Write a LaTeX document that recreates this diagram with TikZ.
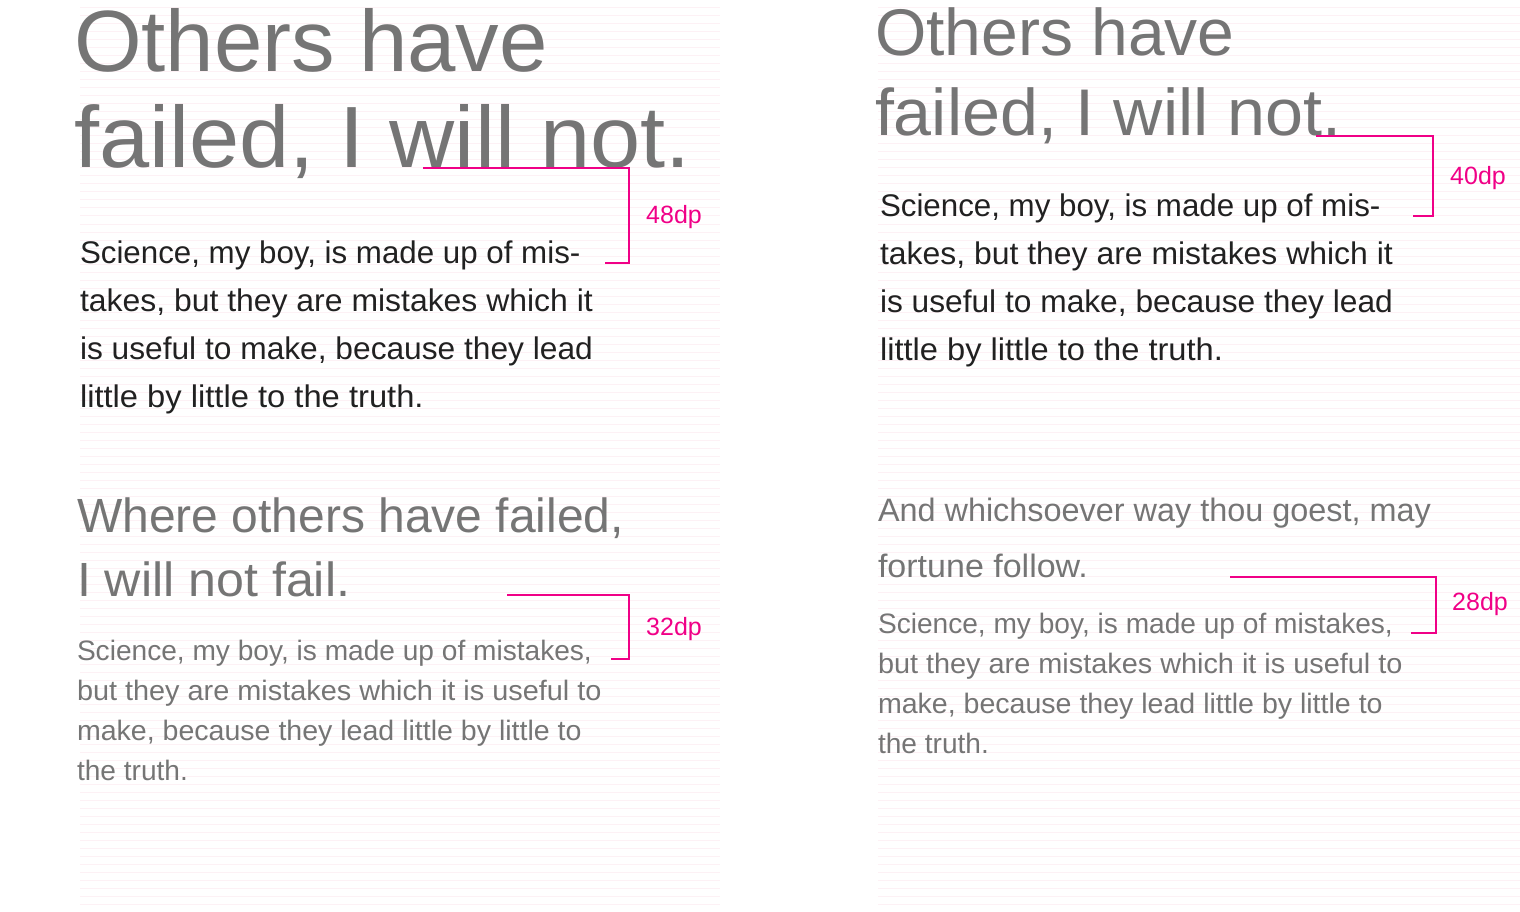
\documentclass[tikz,border=0pt]{standalone}
\usepackage{fontspec}
\usepackage{graphicx}
\setmainfont{Liberation Sans}
\definecolor{headgray}{RGB}{117,117,117}
\definecolor{bodyblack}{RGB}{33,33,33}
\definecolor{dppink}{RGB}{240,0,135}
\definecolor{gridpink}{RGB}{253,241,245}
\newcommand\sxt[2]{\scalebox{#1}[1]{#2}}
\tikzset{
  txt/.style={anchor=base west, inner sep=0pt, outer sep=0pt},
  hdA/.style={txt, text=headgray, font=\fontsize{87}{87}\selectfont},
  hdB/.style={txt, text=headgray, font=\fontsize{66}{66}\selectfont},
  hdC/.style={txt, text=headgray, font=\fontsize{48}{48}\selectfont},
  hdD/.style={txt, text=headgray, font=\fontsize{32.4}{32.4}\selectfont},
  bodyA/.style={txt, text=bodyblack, font=\fontsize{31.3}{31.3}\selectfont},
  bodyB/.style={txt, text=headgray, font=\fontsize{28.1}{28.1}\selectfont},
  dplabel/.style={inner sep=0pt, text=dppink, font=\fontsize{25}{25}\selectfont},
  bracket/.style={draw=dppink, line width=1.6pt},
  gridline/.style={draw=gridpink, line width=1pt}
}
\begin{document}
\begin{tikzpicture}[x=1pt, y=-1pt]
\useasboundingbox (0,0) rectangle (1520,912);
% baseline grids
\foreach \yy in {8,16,...,912} {
  \draw[gridline] (80,\yy) -- (720,\yy);
  \draw[gridline] (878,\yy) -- (1520,\yy);
}
% ---- top left ----
\node[hdA] (tl1) at (74,72) {Others have};
\node[hdA] (tl2) at (74,168) {\sxt{1.037}{failed, I will not.}};
\node[bodyA] (tlb1) at (80,263) {Science, my boy, is made up of mis-};
\node[bodyA] (tlb2) at (80,311) {\sxt{1.02}{takes, but they are mistakes which it}};
\node[bodyA] (tlb3) at (80,359) {\sxt{1.013}{is useful to make, because they lead}};
\node[bodyA] (tlb4) at (80,407) {\sxt{1.045}{little by little to the truth.}};
\coordinate (tlA) at (423,168);
\coordinate (tlB) at (629,168);
\coordinate (tlC) at (629,263);
\coordinate (tlD) at (605,263);
\draw[bracket] (tlA) -- (tlB) -- (tlC) -- (tlD);
\node[dplabel] (tll) at (674,217) {48dp};
% ---- top right ----
\node[hdB] (tr1) at (875,56) {Others have};
\node[hdB] (tr2) at (875,136) {\sxt{1.034}{failed, I will not.}};
\node[bodyA] (trb1) at (880,216) {Science, my boy, is made up of mis-};
\node[bodyA] (trb2) at (880,264) {\sxt{1.02}{takes, but they are mistakes which it}};
\node[bodyA] (trb3) at (880,312) {\sxt{1.013}{is useful to make, because they lead}};
\node[bodyA] (trb4) at (880,360) {\sxt{1.043}{little by little to the truth.}};
\coordinate (trA) at (1316,136);
\coordinate (trB) at (1433,136);
\coordinate (trC) at (1433,216);
\coordinate (trD) at (1413,216);
\draw[bracket] (trA) -- (trB) -- (trC) -- (trD);
\node[dplabel] (trl) at (1478,178) {40dp};
% ---- bottom left ----
\node[hdC] (bl1) at (77,532) {Where others have failed,};
\node[hdC] (bl2) at (77,596) {\sxt{1.045}{I will not fail.}};
\node[bodyB] (blb1) at (77,660) {Science, my boy, is made up of mistakes,};
\node[bodyB] (blb2) at (77,700) {\sxt{1.027}{but they are mistakes which it is useful to}};
\node[bodyB] (blb3) at (77,740) {\sxt{1.016}{make, because they lead little by little to}};
\node[bodyB] (blb4) at (77,780) {the truth.};
\coordinate (blA) at (507,595);
\coordinate (blB) at (629,595);
\coordinate (blC) at (629,659);
\coordinate (blD) at (611,659);
\draw[bracket] (blA) -- (blB) -- (blC) -- (blD);
\node[dplabel] (bll) at (674,629) {32dp};
% ---- bottom right ----
\node[hdD] (br1) at (878,521) {And whichsoever way thou goest, may};
\node[hdD] (br2) at (878,577) {\sxt{1.05}{fortune follow.}};
\node[bodyB] (brb1) at (878,633) {Science, my boy, is made up of mistakes,};
\node[bodyB] (brb2) at (878,673) {\sxt{1.027}{but they are mistakes which it is useful to}};
\node[bodyB] (brb3) at (878,713) {\sxt{1.016}{make, because they lead little by little to}};
\node[bodyB] (brb4) at (878,753) {the truth.};
\coordinate (brA) at (1230,577);
\coordinate (brB) at (1436,577);
\coordinate (brC) at (1436,633);
\coordinate (brD) at (1411,633);
\draw[bracket] (brA) -- (brB) -- (brC) -- (brD);
\node[dplabel] (brl) at (1480,604) {28dp};
\end{tikzpicture}
\end{document}
